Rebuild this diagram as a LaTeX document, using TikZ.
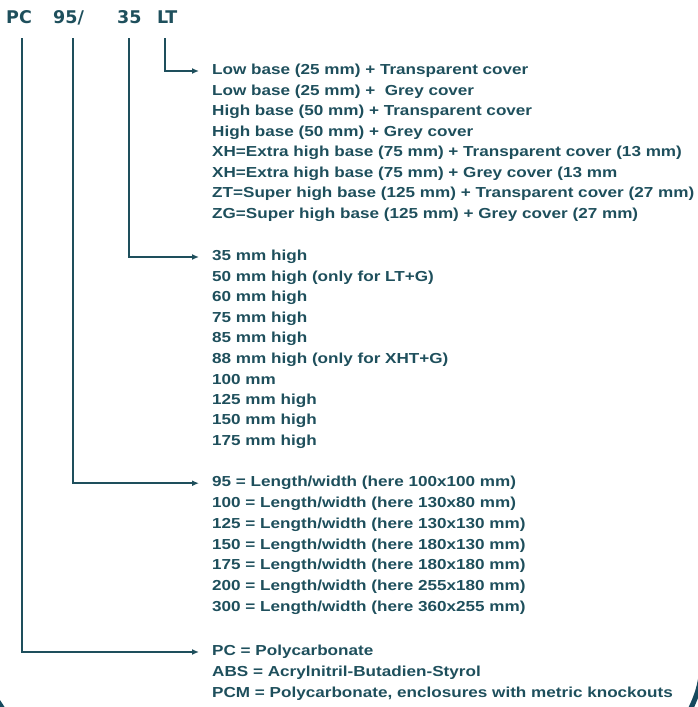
\documentclass[tikz,border=0pt]{standalone}
\usepackage{fontspec}
\setmainfont[FakeStretch=1.18]{Liberation Sans}
\newfontfamily\codefont{DejaVu Sans}
\usetikzlibrary{positioning,arrows.meta}
\definecolor{petrol}{HTML}{1E4F5C}
\definecolor{rim}{HTML}{164A5E}

\begin{document}
\begin{tikzpicture}[
		x=1pt, y=-1pt
		,code/.style={font=\codefont\bfseries\fontsize{17.5}{17.5}\selectfont, text=petrol, inner sep=0pt, text height=12pt, text depth=0pt, anchor=base west}
		,item/.style={font=\bfseries\fontsize{14.5}{14.5}\selectfont, text=petrol, inner sep=0pt, anchor=west}
		,lead/.style={draw=petrol, line width=1.6pt, shorten <=15pt, shorten >=13pt, -{Latex[length=7pt, width=6pt]}}
	]
		\useasboundingbox (0,0) rectangle (698,707);
		\begin{scope}
			\clip (0,0) rectangle (698,707);
			\draw[rim, line width=5pt] (701,676) .. controls (699,690) and (695,700) .. (689,712);
			\draw[rim, line width=4pt] (-4,698) .. controls (-1,702) and (1,705) .. (4,710);
		\end{scope}

		% type code
		\node[code] (pc) at (6,23) {PC};
		\node[code] (size) at (53,23) {95/};
		\node[code] (high) at (117,23) {35};
		\node[code] (cover) at (157,23) {LT};

		% cover and base
		\foreach \t [count=\i] in {
			Low base (25 mm) + Transparent cover,
			Low base (25 mm) +~ Grey cover,
			High base (50 mm) + Transparent cover,
			High base (50 mm) + Grey cover,
			XH=Extra high base (75 mm) + Transparent cover (13 mm),
			XH=Extra high base (75 mm) + Grey cover (13 mm,
			ZT=Super high base (125 mm) + Transparent cover (27 mm),
			ZG=Super high base (125 mm) + Grey cover (27 mm)}
			\node[item] (cv\i) at (212, 50.5+20.5*\i) {\t};

		% heights
		\foreach \t [count=\i] in {
			35 mm high, 50 mm high (only for LT+G), 60 mm high, 75 mm high,
			85 mm high, 88 mm high (only for XHT+G), 100 mm, 125 mm high,
			150 mm high, 175 mm high}
			\node[item] (ht\i) at (212, 236.5+20.5*\i) {\t};

		% sizes
		\foreach \t [count=\i] in {
			95 = Length/width (here 100x100 mm),
			100 = Length/width (here 130x80 mm),
			125 = Length/width (here 130x130 mm),
			150 = Length/width (here 180x130 mm),
			175 = Length/width (here 180x180 mm),
			200 = Length/width (here 255x180 mm),
			300 = Length/width (here 360x255 mm)}
			\node[item] (sz\i) at (212, 462.5+20.7*\i) {\t};

		% material
		\foreach \t [count=\i] in {
			PC = Polycarbonate,
			ABS = Acrylnitril-Butadien-Styrol,
			{PCM = Polycarbonate, enclosures with metric knockouts}}
			\node[item] (mt\i) at (212, 631+21*\i) {\t};

		\draw[lead] ([xshift=8pt]cover.south west) |- (cv1.west);
		\draw[lead] ([xshift=12pt]high.south west) |- (ht1.west);
		\draw[lead] ([xshift=20pt]size.south west) |- (sz1.west);
		\draw[lead] ([xshift=16pt]pc.south west) |- (mt1.west);
	\end{tikzpicture}
\end{document}
